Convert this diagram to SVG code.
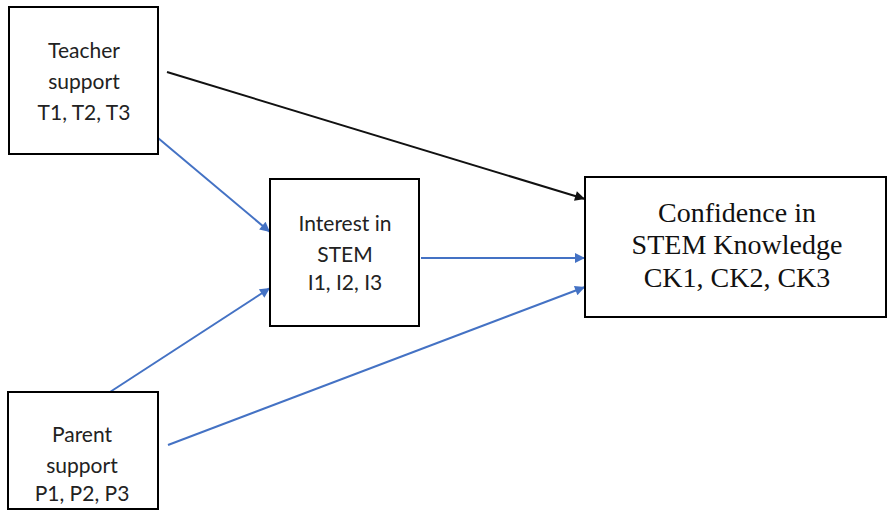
<svg xmlns="http://www.w3.org/2000/svg" width="887" height="511" viewBox="0 0 887 511">
<defs>
<style>
.box{fill:#fff;stroke:#000;stroke-width:2}
.sans{font-family:Lato,"Open Sans","Liberation Sans",sans-serif;font-size:21px;fill:#222;text-anchor:middle}
.serif{font-family:"Liberation Serif","Times New Roman",serif;font-size:28px;fill:#111;text-anchor:middle}
.blue{stroke:#4472C4;stroke-width:2;fill:none}
.black{stroke:#111;stroke-width:2;fill:none}
</style>
<marker id="ab" viewBox="0 0 10 10" refX="10" refY="5" markerWidth="11" markerHeight="10" orient="auto" markerUnits="userSpaceOnUse">
<path d="M0,0 L10,5 L0,10 z" fill="#4472C4"/>
</marker>
<marker id="ak" viewBox="0 0 10 10" refX="10" refY="5" markerWidth="11" markerHeight="10" orient="auto" markerUnits="userSpaceOnUse">
<path d="M0,0 L10,5 L0,10 z" fill="#111"/>
</marker>
</defs>
<rect width="887" height="511" fill="#fff"/>
<g id="connectors">
<line class="black" x1="167" y1="72" x2="585" y2="199" marker-end="url(#ak)"/>
<line class="blue" x1="158" y1="138" x2="270" y2="232" marker-end="url(#ab)"/>
<line class="blue" x1="110" y1="392" x2="270" y2="288" marker-end="url(#ab)"/>
<line class="blue" x1="421" y1="258" x2="585" y2="258" marker-end="url(#ab)"/>
<line class="blue" x1="168" y1="445" x2="585" y2="287" marker-end="url(#ab)"/>
</g>
<g id="teacher">
<rect class="box" x="9" y="7" width="149" height="147"/>
<text class="sans"><tspan x="84" y="58">Teacher</tspan><tspan x="84" y="89">support</tspan><tspan x="84" y="120">T1, T2, T3</tspan></text>
</g>
<g id="interest">
<rect class="box" x="270" y="179" width="149" height="147"/>
<text class="sans"><tspan x="345" y="231">Interest in</tspan><tspan x="345" y="262">STEM</tspan><tspan x="345" y="290">I1, I2, I3</tspan></text>
</g>
<g id="confidence">
<rect class="box" x="585" y="177" width="301" height="140"/>
<text class="serif"><tspan x="737" y="222">Confidence in</tspan><tspan x="737" y="254">STEM Knowledge</tspan><tspan x="737" y="287">CK1, CK2, CK3</tspan></text>
</g>
<g id="parent">
<rect class="box" x="8" y="392" width="150" height="117"/>
<text class="sans"><tspan x="82" y="442">Parent</tspan><tspan x="82" y="473">support</tspan><tspan x="82" y="501">P1, P2, P3</tspan></text>
</g>
</svg>
